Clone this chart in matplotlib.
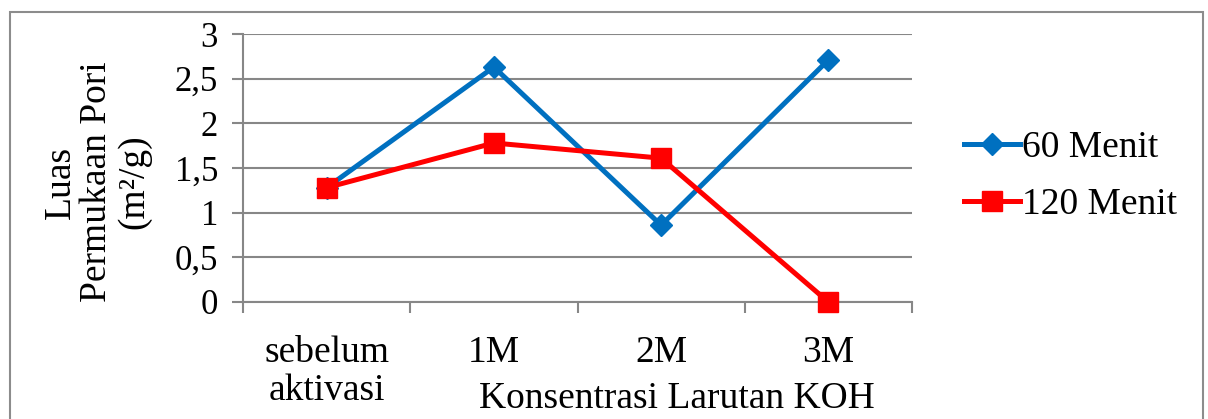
import matplotlib.pyplot as plt
from matplotlib.patches import Rectangle

categories = ["sebelum\naktivasi", "1M", "2M", "3M"]
menit_60 = [1.28, 2.63, 0.86, 2.71]
menit_120 = [1.28, 1.78, 1.61, 0.0]
y_ticks = [0, 0.5, 1, 1.5, 2, 2.5, 3]
y_tick_labels = ["0", "0,5", "1", "1,5", "2", "2,5", "3"]

plt.rcParams["font.family"] = ["Liberation Serif", "DejaVu Serif"]
grid_color = "#878787"
fs = 27

fig = plt.figure(figsize=(12.08, 4.19), dpi=100)
ax = fig.add_axes([243 / 1208, 117 / 419, 669 / 1208, 268 / 419])

x = list(range(len(categories)))
ax.plot(x, menit_60, color="#0070C0", linewidth=3.6, marker="D", markersize=11, label="60 Menit", zorder=3,
        clip_on=False)
ax.plot(x, menit_120, color="#FF0000", linewidth=3.6, marker="s", markersize=14, label="120 Menit", zorder=4,
        clip_on=False)

ax.set_xlim(-0.5, len(categories) - 0.5)
ax.set_ylim(0, 3)
ax.set_yticks(y_ticks)
ax.set_yticklabels(y_tick_labels)
ax.set_xticks(x)
ax.set_xticklabels(categories, linespacing=1.12)
ax.set_xticks([i - 0.5 for i in range(len(categories) + 1)], minor=True)
ax.tick_params(axis="x", which="major", length=0, pad=24, labelsize=fs)
ax.tick_params(axis="x", which="minor", length=8, width=1.5, color=grid_color, direction="out")
ax.tick_params(axis="y", length=8, width=1.5, color=grid_color, labelsize=25, pad=10)

ax.grid(True, axis="y", color=grid_color, linewidth=1.5)
ax.set_axisbelow(True)
for side in ["top", "right"]:
    ax.spines[side].set_visible(False)
ax.spines["left"].set_color(grid_color)
ax.spines["left"].set_linewidth(1.5)
ax.spines["bottom"].set_color(grid_color)
ax.spines["bottom"].set_linewidth(1.5)

fig.text(97 / 1208, 1 - 182 / 419, "Luas\nPermukaan Pori\n(m²/g)", rotation=90, ha="center", va="center",
         fontsize=fs, linespacing=1.08)
fig.text(677 / 1208, 1 - 399 / 419, "Konsentrasi Larutan KOH", ha="center", va="center", fontsize=fs)

ax.legend(loc="center left", bbox_to_anchor=(964 / 1208, 1 - 176 / 419), bbox_transform=fig.transFigure,
          frameon=False, fontsize=fs, handlelength=1.5, handletextpad=0.05, labelspacing=0.6,
          borderpad=0, borderaxespad=0)

fig.patches.append(Rectangle((10 / 1208, -0.05), 1193 / 1208, 1.05 - 12 / 419, transform=fig.transFigure,
                             fill=False, edgecolor="#8c8c8c", linewidth=1.5))

fig.savefig("out.png", dpi=100)
plt.close(fig)
